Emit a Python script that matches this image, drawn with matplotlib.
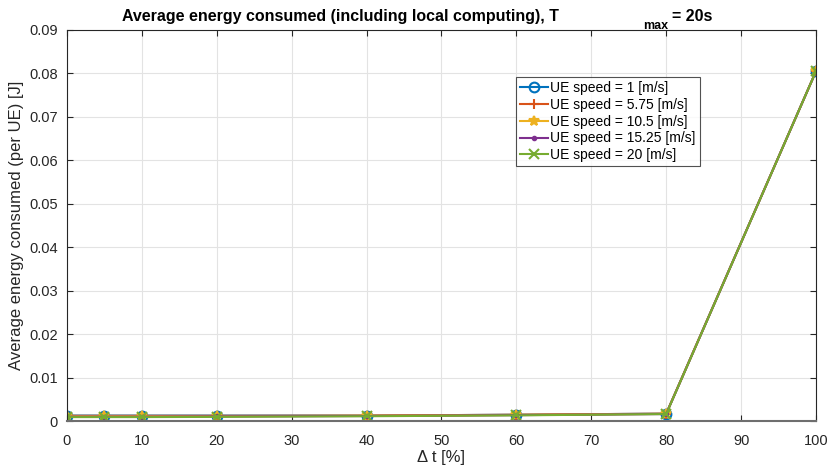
import matplotlib
matplotlib.use("Agg")
import matplotlib.pyplot as plt

delta_t = [0, 5, 10, 20, 40, 60, 80, 100]
speeds = ["1", "5.75", "10.5", "15.25", "20"]
energy = {
    "1":     [0.00125, 0.00125, 0.00125, 0.00125, 0.00125, 0.00145, 0.00170, 0.0805],
    "5.75":  [0.00120, 0.00120, 0.00120, 0.00120, 0.00125, 0.00145, 0.00170, 0.0805],
    "10.5":  [0.00110, 0.00110, 0.00110, 0.00110, 0.00120, 0.00140, 0.00165, 0.0805],
    "15.25": [0.00100, 0.00100, 0.00100, 0.00105, 0.00115, 0.00135, 0.00160, 0.0805],
    "20":    [0.00090, 0.00090, 0.00090, 0.00095, 0.00110, 0.00130, 0.00160, 0.0805],
}

colors = ["#0072BD", "#D95319", "#EDB120", "#7E2F8E", "#77AC30"]
markers = ["o", "+", "*", ".", "x"]

plt.rcParams["font.family"] = ["Liberation Sans", "DejaVu Sans"]

fig = plt.figure(figsize=(8.28, 4.68), dpi=100)
ax = fig.add_axes([0.0809, 0.1004, 0.9046, 0.8355])

for spd, c, m in zip(speeds, colors, markers):
    kw = dict(markersize=7, markeredgewidth=1.5)
    if m == "o":
        kw.update(markerfacecolor="none")
    if m == ".":
        kw.update(markersize=5)
    ax.plot(delta_t, energy[spd], color=c, marker=m, linewidth=1.5,
            label=f"UE speed = {spd} [m/s]", **kw)

ax.set_xlim(0, 100)
ax.set_ylim(0, 0.09)
ax.set_xticks(range(0, 101, 10))
ax.set_yticks([i * 0.01 for i in range(10)])
ax.set_yticklabels(["0"] + [f"{i * 0.01:.2f}" for i in range(1, 10)])
ax.grid(True, color="#e3e3e3", linewidth=0.8)
ax.set_axisbelow(True)
ax.tick_params(direction="in", labelsize=10.5, colors="#262626", length=4,
               top=True, right=True, labeltop=False, labelright=False)
ax.tick_params(axis="y", pad=6.5)
ax.tick_params(axis="x", pad=9)
for s in ax.spines.values():
    s.set_color("#262626")
    s.set_linewidth(0.8)
ax.spines["bottom"].set_color("#6e6e6e")
ax.spines["bottom"].set_linewidth(1.5)

ax.set_xlabel("\u0394 t [%]", fontsize=12, color="#262626", labelpad=2)
ax.set_ylabel("Average energy consumed (per UE) [J]", fontsize=12,
              color="#262626", labelpad=4)

leg = ax.legend(loc="upper left", bbox_to_anchor=(0.599, 0.88), fontsize=10,
                frameon=True, fancybox=False, edgecolor="#262626",
                borderpad=0.3, labelspacing=0.2, handlelength=2.0,
                handletextpad=0.2, borderaxespad=0)
leg.get_frame().set_linewidth(0.8)

# MATLAB-style title with a detached subscript
fig.text(122 / 828, 1 - 21 / 468, "Average energy consumed (including local computing), T",
         fontsize=11.5, fontweight="bold", ha="left", va="baseline")
fig.text(643 / 828, 1 - 29 / 468, "max", fontsize=9, fontweight="bold",
         ha="left", va="baseline")
fig.text(672 / 828, 1 - 21 / 468, "= 20s", fontsize=11.5, fontweight="bold",
         ha="left", va="baseline")

fig.savefig("out.png", dpi=100)
